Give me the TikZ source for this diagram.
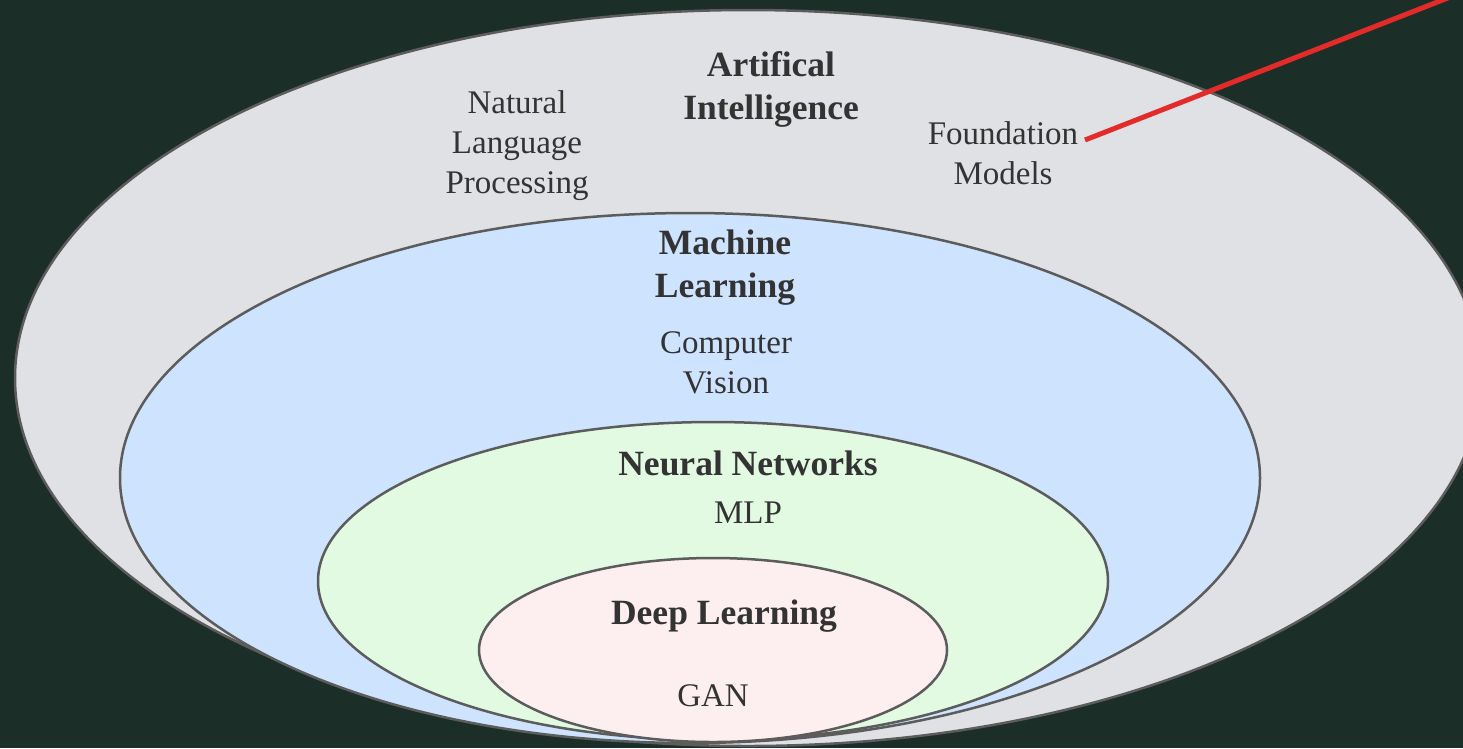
\documentclass[tikz,border=0pt]{standalone}
\usepackage{fontspec}
\setmainfont{Liberation Serif}
\definecolor{bgdark}{HTML}{1C2E28}
\definecolor{rimgray}{HTML}{5C5C5C}
\definecolor{inkgray}{HTML}{333333}
\definecolor{aifill}{HTML}{DFE1E5}
\definecolor{mlfill}{HTML}{CEE3FE}
\definecolor{nnfill}{HTML}{E2F9E2}
\definecolor{dlfill}{HTML}{FDEFEF}
\definecolor{pointred}{HTML}{E52A2A}
\begin{document}
\begin{tikzpicture}[
    x=1pt, y=-1pt,
    region/.style={draw=rimgray, line width=2.5pt},
    itemtext/.style={text=inkgray, align=center, font=\fontsize{33}{40}\selectfont},
    headtext/.style={text=inkgray, align=center, font=\fontsize{35.5}{43}\selectfont\bfseries},
    pointer/.style={draw=pointred, line width=5pt}
]
\useasboundingbox (0,0) rectangle (1463,748);
\fill[bgdark] (0,0) rectangle (1463,748);
\clip (0,0) rectangle (1463,748);

% nested regions
\filldraw[region, fill=aifill] (748,378) ellipse [x radius=733, y radius=368];
\filldraw[region, fill=mlfill] (690,478) ellipse [x radius=570, y radius=265];
\filldraw[region, fill=nnfill] (713,581) ellipse [x radius=395, y radius=159];
\filldraw[region, fill=dlfill] (713,650) ellipse [x radius=234, y radius=92];

\node[headtext] (ai) at (771,89) {Artifical\\Intelligence};
\node[itemtext] (nlp) at (517,146) {Natural\\Language\\Processing};
\node[itemtext] (fm) at (1003,153) {Foundation\\Models};
\node[headtext] (ml) at (725,268) {Machine\\Learning};
\node[itemtext] (cv) at (726,363) {Computer\\Vision};
\node[headtext] (nn) at (748,463) {Neural Networks};
\node[itemtext] (mlp) at (748,513) {MLP};
\node[headtext] (dl) at (724,616) {Deep Learning};
\node[itemtext] (gan) at (713,696) {GAN};

\coordinate (fmtip) at (1085,140);
\coordinate (offedge) at (1463,-8);
\draw[pointer] (fmtip) -- (offedge);
\end{tikzpicture}
\end{document}
